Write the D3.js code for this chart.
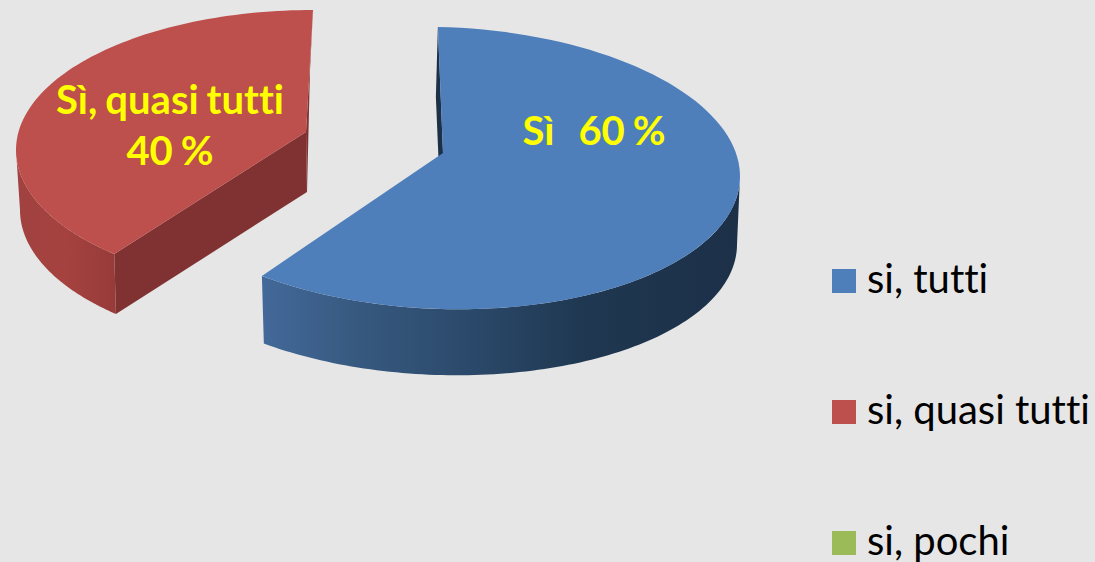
<!DOCTYPE html>
<html>
<head>
<meta charset="utf-8">
<script src="https://cdn.jsdelivr.net/npm/d3@7"></script>
<style>
  html, body { margin: 0; padding: 0; background: #e6e6e6; overflow: hidden; }
  text { font-family: Lato, "Open Sans", sans-serif; font-variant-ligatures: none; }
</style>
</head>
<body>
<div id="chart"></div>
<script>
// chart values
var categories = ["si, tutti", "si, quasi tutti", "si, pochi"];
var values = [60, 40, 0];
var sliceLabels = [["Sì   60 %"], ["Sì, quasi tutti", "40 %"], []];
var colors = ["#4e7fbb", "#bd4f4c", "#9bbb59"];

var svgWidth = 1095;
var svgHeight = 562;

var svg = d3.select("#chart")
    .append("svg")
    .attr("width", svgWidth)
    .attr("height", svgHeight);

svg.append("rect")
    .attr("width", svgWidth)
    .attr("height", svgHeight)
    .attr("fill", "#e6e6e6");

// how each slice sits on the page: top ellipse, bottom ellipse, apex points.
// the picture is a perspective view so the two slices do not share one ellipse
var shapes = [
    {
        top: { cx: 441, cy: 168, rx: 299, ry: 141 },
        bottom: { cx: 439, cy: 236, rx: 298, ry: 139 },
        shear: 0.028,
        dStart: -0.6, dEnd: 0.8,
        apex: [443, 153], apexLow: [441, 218],
        wall: [90, 216.8], wallLowEnd: 216,
        wallStops: [[0, "#1c3048"], [0.32, "#1f3750"], [0.55, "#2a4869"], [0.8, "#37597f"], [1, "#43699a"]],
        wallRange: [740, 262],
        innerFill: "#1c3048",
        cutFace: false
    },
    {
        top: { cx: 313, cy: 150, rx: 297, ry: 140 },
        bottom: { cx: 310, cy: 210, rx: 290, ry: 140 },
        shear: 0,
        dStart: 6, dEnd: 0,
        apex: [306, 132], apexLow: [307, 192],
        wall: [222, 270], wallLowEnd: 270,
        wallStops: [[0, "#973b3a"], [0.5, "#a5423f"], [1, "#a14240"]],
        wallRange: [115, 17],
        innerFill: "#7f3231",
        cutFace: true
    }
];

var pie = d3.pie().sort(null).value(function(d) { return d; });
var slices = pie(values);

var rad = Math.PI / 180;

// point on a slice ellipse, t in degrees clockwise from the top
function onEllipse(e, shear, t) {
    var x = e.cx + e.rx * Math.sin(t * rad);
    var y = e.cy - e.ry * Math.cos(t * rad) + shear * (x - e.cx);
    return [x, y];
}

function arcPoints(e, shear, t0, t1) {
    return d3.range(0, 101).map(function(i) {
        return onEllipse(e, shear, t0 + (t1 - t0) * i / 100);
    });
}

var line = d3.line();
var defs = svg.append("defs");

slices.forEach(function(slice, i) {
    if (slice.value === 0) return;
    var s = shapes[i];
    var t0 = slice.startAngle / rad + s.dStart;
    var t1 = slice.endAngle / rad + s.dEnd;
    var g = svg.append("g");

    // thin inner wall behind the top face
    var cornerTop = onEllipse(s.top, s.shear, i === 0 ? t0 : t1);
    var cornerLow = onEllipse(s.bottom, s.shear, i === 0 ? t0 : t1);
    g.append("path")
        .attr("d", line([cornerTop, s.apex, s.apexLow, cornerLow]) + "Z")
        .attr("fill", s.innerFill);

    // flat cut face, only the red slice shows it
    if (s.cutFace) {
        g.append("path")
            .attr("d", line([s.apex, onEllipse(s.top, s.shear, t0), onEllipse(s.bottom, s.shear, t0), s.apexLow]) + "Z")
            .attr("fill", s.innerFill);
    }

    // outer wall with its horizontal shading
    var gradId = "wall" + i;
    var grad = defs.append("linearGradient")
        .attr("id", gradId)
        .attr("gradientUnits", "userSpaceOnUse")
        .attr("x1", s.wallRange[0]).attr("y1", 0)
        .attr("x2", s.wallRange[1]).attr("y2", 0);
    s.wallStops.forEach(function(stop) {
        grad.append("stop").attr("offset", stop[0]).attr("stop-color", stop[1]);
    });
    var upper = arcPoints(s.top, s.shear, s.wall[0], s.wall[1]);
    var lower = arcPoints(s.bottom, s.shear, s.wall[0], s.wallLowEnd).reverse();
    g.append("path")
        .attr("d", line(upper.concat(lower)) + "Z")
        .attr("fill", "url(#" + gradId + ")");

    // top face
    g.append("path")
        .attr("d", line([s.apex].concat(arcPoints(s.top, s.shear, t0, t1))) + "Z")
        .attr("fill", colors[i]);
});

// yellow labels on the slices
var labelX = [594, 170];
var labelY = [145, 114];
sliceLabels.forEach(function(rows, i) {
    rows.forEach(function(row, j) {
        svg.append("text")
            .attr("x", labelX[i])
            .attr("y", labelY[i] + j * 51)
            .attr("text-anchor", "middle")
            .attr("font-size", 40)
            .attr("font-weight", 700)
            .attr("fill", "#ffff00")
            .attr("word-spacing", -1.75)
            .style("white-space", "pre")
            .text(row);
    });
});

// legend
var legendY = d3.scalePoint().domain(categories).range([281, 543]);
var legend = svg.selectAll(".legend")
    .data(categories)
    .enter()
    .append("g")
    .attr("class", "legend")
    .attr("transform", function(d) { return "translate(832," + legendY(d) + ")"; });

legend.append("rect")
    .attr("y", -12)
    .attr("width", 24)
    .attr("height", 24)
    .attr("fill", function(d, i) { return colors[i]; });

// the last row runs off the bottom of the picture, same as the reference
legend.append("text")
    .attr("x", 35)
    .attr("y", 12)
    .attr("font-size", 40)
    .attr("fill", "#000")
    .text(function(d) { return d; });
</script>
</body>
</html>
